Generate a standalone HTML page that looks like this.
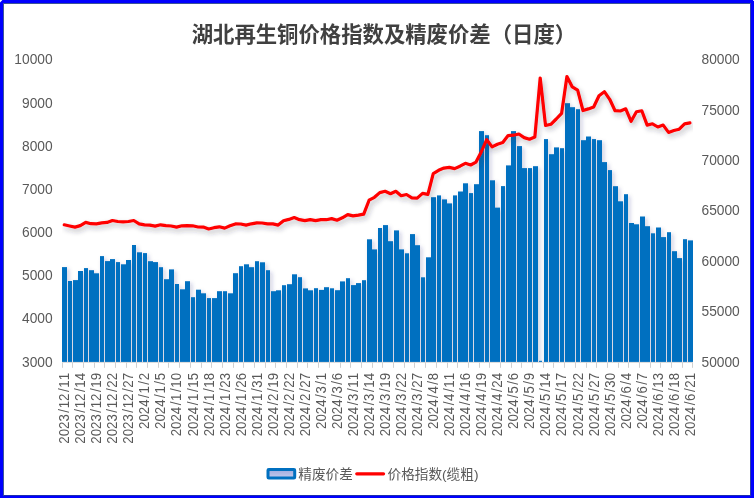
<!DOCTYPE html>
<html lang="zh-CN"><head><meta charset="utf-8"><title>湖北再生铜价格指数及精废价差（日度）</title>
<style>
html,body{margin:0;padding:0;background:#fff;}
body{width:754px;height:498px;overflow:hidden;position:relative;font-family:"Liberation Sans","Noto Sans CJK SC",sans-serif;}
#frame{position:absolute;left:0;top:0;width:754px;height:498px;box-sizing:border-box;border-style:solid;border-color:#0000fe;border-width:3px 3px 2px 3px;background:#fff;}
#inner{position:absolute;left:3px;top:3px;width:748px;height:493px;box-sizing:border-box;border-style:solid;border-width:1px;border-color:#3c5496 #2c40a4 #1c2cb0 #405896;}
svg{position:absolute;left:0;top:0;}
.ax{font-family:"Liberation Sans","Noto Sans CJK SC",sans-serif;font-size:14.6px;fill:#595959;font-kerning:none;}
.ttl{font-family:"Liberation Sans","Noto Sans CJK SC",sans-serif;font-size:21.37px;font-weight:bold;fill:#404040;}
.lg{font-family:"Liberation Sans","Noto Sans CJK SC",sans-serif;font-size:13.65px;fill:#595959;}
</style></head><body>
<div id="frame"></div><div id="inner"></div>
<svg width="754" height="498" viewBox="0 0 754 498">
<defs>
<filter id="sh" x="-5%" y="-5%" width="110%" height="115%"><feDropShadow dx="2" dy="2" stdDeviation="2.2" flood-color="#1c2c70" flood-opacity="0.22"/></filter>
<filter id="shl" x="-5%" y="-10%" width="110%" height="125%"><feDropShadow dx="2" dy="3" stdDeviation="2.6" flood-color="#2c2c3c" flood-opacity="0.32"/></filter>
<linearGradient id="lgf" x1="0" y1="0" x2="0" y2="1"><stop offset="0" stop-color="#9eaade"/><stop offset="1" stop-color="#c4caec"/></linearGradient>
<clipPath id="plot"><rect x="62" y="50" width="631" height="312"/></clipPath>
</defs>
<text class="ttl" x="383.9" y="41.7" text-anchor="middle">湖北再生铜价格指数及精废价差（日度）</text>
<text class="ax" transform="translate(52.6,64.3) scale(0.943,1)" text-anchor="end">10000</text>
<text class="ax" transform="translate(52.6,107.5) scale(0.943,1)" text-anchor="end">9000</text>
<text class="ax" transform="translate(52.6,150.6) scale(0.943,1)" text-anchor="end">8000</text>
<text class="ax" transform="translate(52.6,193.8) scale(0.943,1)" text-anchor="end">7000</text>
<text class="ax" transform="translate(52.6,236.9) scale(0.943,1)" text-anchor="end">6000</text>
<text class="ax" transform="translate(52.6,280.1) scale(0.943,1)" text-anchor="end">5000</text>
<text class="ax" transform="translate(52.6,323.2) scale(0.943,1)" text-anchor="end">4000</text>
<text class="ax" transform="translate(52.6,367.1) scale(0.943,1)" text-anchor="end">3000</text>
<text class="ax" transform="translate(701.5,64.3) scale(0.943,1)">80000</text>
<text class="ax" transform="translate(701.5,114.6) scale(0.943,1)">75000</text>
<text class="ax" transform="translate(701.5,165.0) scale(0.943,1)">70000</text>
<text class="ax" transform="translate(701.5,215.3) scale(0.943,1)">65000</text>
<text class="ax" transform="translate(701.5,265.7) scale(0.943,1)">60000</text>
<text class="ax" transform="translate(701.5,316.0) scale(0.943,1)">55000</text>
<text class="ax" transform="translate(701.5,367.0) scale(0.943,1)">50000</text>
<path d="M62.3 362.4H692.8" stroke="#d9d9d9" stroke-width="1" fill="none"/>
<path d="M62.5 362.4V367.8M72.5 362.4V367.8M83.5 362.4V367.8M94.5 362.4V367.8M104.5 362.4V367.8M115.5 362.4V367.8M126.5 362.4V367.8M136.5 362.4V367.8M147.5 362.4V367.8M158.5 362.4V367.8M168.5 362.4V367.8M179.5 362.4V367.8M190.5 362.4V367.8M201.5 362.4V367.8M211.5 362.4V367.8M222.5 362.4V367.8M233.5 362.4V367.8M243.5 362.4V367.8M254.5 362.4V367.8M265.5 362.4V367.8M275.5 362.4V367.8M286.5 362.4V367.8M297.5 362.4V367.8M307.5 362.4V367.8M318.5 362.4V367.8M329.5 362.4V367.8M340.5 362.4V367.8M350.5 362.4V367.8M361.5 362.4V367.8M372.5 362.4V367.8M382.5 362.4V367.8M393.5 362.4V367.8M404.5 362.4V367.8M414.5 362.4V367.8M425.5 362.4V367.8M436.5 362.4V367.8M447.5 362.4V367.8M457.5 362.4V367.8M468.5 362.4V367.8M479.5 362.4V367.8M489.5 362.4V367.8M500.5 362.4V367.8M511.5 362.4V367.8M521.5 362.4V367.8M532.5 362.4V367.8M543.5 362.4V367.8M553.5 362.4V367.8M564.5 362.4V367.8M575.5 362.4V367.8M586.5 362.4V367.8M596.5 362.4V367.8M607.5 362.4V367.8M618.5 362.4V367.8M628.5 362.4V367.8M639.5 362.4V367.8M650.5 362.4V367.8M660.5 362.4V367.8M671.5 362.4V367.8M682.5 362.4V367.8M692.5 362.4V367.8" stroke="#d0d0d0" stroke-width="1" fill="none"/>
<g clip-path="url(#plot)">
<g filter="url(#sh)" fill="#0070c0">
<rect x="62" y="267.1" width="5" height="94.8"/><rect x="68" y="281.0" width="4" height="80.9"/><rect x="73" y="280.1" width="5" height="81.8"/><rect x="78" y="271.0" width="5" height="90.9"/><rect x="84" y="268.1" width="4" height="93.8"/><rect x="89" y="270.2" width="5" height="91.7"/><rect x="94" y="273.3" width="5" height="88.6"/><rect x="100" y="256.1" width="4" height="105.8"/><rect x="105" y="261.1" width="5" height="100.8"/><rect x="110" y="259.1" width="5" height="102.8"/><rect x="116" y="262.1" width="4" height="99.8"/><rect x="121" y="264.3" width="5" height="97.6"/><rect x="126" y="260.0" width="5" height="101.9"/><rect x="132" y="245.0" width="4" height="116.9"/><rect x="137" y="252.3" width="5" height="109.6"/><rect x="143" y="253.1" width="4" height="108.8"/><rect x="148" y="261.2" width="5" height="100.7"/><rect x="153" y="262.1" width="5" height="99.8"/><rect x="159" y="267.2" width="4" height="94.7"/><rect x="164" y="279.2" width="5" height="82.7"/><rect x="169" y="269.4" width="5" height="92.5"/><rect x="175" y="284.0" width="4" height="77.9"/><rect x="180" y="289.3" width="5" height="72.6"/><rect x="185" y="281.2" width="5" height="80.7"/><rect x="191" y="297.2" width="4" height="64.7"/><rect x="196" y="289.7" width="5" height="72.2"/><rect x="201" y="293.3" width="5" height="68.6"/><rect x="207" y="298.1" width="4" height="63.8"/><rect x="212" y="298.1" width="5" height="63.8"/><rect x="217" y="291.2" width="5" height="70.7"/><rect x="223" y="291.2" width="4" height="70.7"/><rect x="228" y="293.3" width="5" height="68.6"/><rect x="233" y="273.2" width="5" height="88.7"/><rect x="239" y="266.2" width="4" height="95.7"/><rect x="244" y="264.3" width="5" height="97.6"/><rect x="249" y="267.2" width="5" height="94.7"/><rect x="255" y="261.2" width="4" height="100.7"/><rect x="260" y="262.3" width="5" height="99.6"/><rect x="266" y="270.2" width="4" height="91.7"/><rect x="271" y="291.2" width="5" height="70.7"/><rect x="276" y="290.3" width="5" height="71.6"/><rect x="282" y="285.2" width="4" height="76.7"/><rect x="287" y="284.2" width="5" height="77.7"/><rect x="292" y="274.3" width="5" height="87.6"/><rect x="298" y="277.2" width="4" height="84.7"/><rect x="303" y="288.4" width="5" height="73.5"/><rect x="308" y="290.3" width="5" height="71.6"/><rect x="314" y="288.2" width="4" height="73.7"/><rect x="319" y="289.9" width="5" height="72.0"/><rect x="324" y="287.2" width="5" height="74.7"/><rect x="330" y="288.3" width="4" height="73.6"/><rect x="335" y="290.2" width="5" height="71.7"/><rect x="340" y="281.4" width="5" height="80.5"/><rect x="346" y="278.2" width="4" height="83.7"/><rect x="351" y="285.1" width="5" height="76.8"/><rect x="356" y="283.1" width="5" height="78.8"/><rect x="362" y="280.2" width="4" height="81.7"/><rect x="367" y="239.3" width="5" height="122.6"/><rect x="372" y="249.4" width="5" height="112.5"/><rect x="378" y="228.0" width="4" height="133.9"/><rect x="383" y="225.1" width="5" height="136.8"/><rect x="388" y="241.2" width="5" height="120.7"/><rect x="394" y="230.4" width="5" height="131.5"/><rect x="399" y="249.4" width="5" height="112.5"/><rect x="405" y="253.3" width="4" height="108.6"/><rect x="410" y="234.1" width="5" height="127.8"/><rect x="415" y="245.2" width="5" height="116.7"/><rect x="421" y="277.3" width="4" height="84.6"/><rect x="426" y="257.3" width="5" height="104.6"/><rect x="431" y="197.2" width="5" height="164.7"/><rect x="437" y="195.4" width="4" height="166.5"/><rect x="442" y="199.4" width="5" height="162.5"/><rect x="447" y="203.4" width="5" height="158.5"/><rect x="453" y="195.4" width="4" height="166.5"/><rect x="458" y="191.5" width="5" height="170.4"/><rect x="463" y="183.3" width="5" height="178.6"/><rect x="469" y="193.1" width="4" height="168.8"/><rect x="474" y="184.2" width="5" height="177.7"/><rect x="479" y="131.1" width="5" height="230.8"/><rect x="485" y="135.2" width="4" height="226.7"/><rect x="490" y="180.3" width="5" height="181.6"/><rect x="495" y="207.6" width="5" height="154.3"/><rect x="501" y="186.1" width="4" height="175.8"/><rect x="506" y="165.4" width="5" height="196.5"/><rect x="511" y="131.1" width="5" height="230.8"/><rect x="517" y="146.1" width="5" height="215.8"/><rect x="522" y="168.1" width="5" height="193.8"/><rect x="528" y="168.1" width="4" height="193.8"/><rect x="533" y="166.2" width="5" height="195.7"/><rect x="539" y="360.8" width="3" height="1.1"/><rect x="544" y="139.1" width="4" height="222.8"/><rect x="549" y="154.2" width="5" height="207.7"/><rect x="554" y="147.4" width="5" height="214.5"/><rect x="560" y="148.2" width="4" height="213.7"/><rect x="565" y="103.2" width="5" height="258.7"/><rect x="570" y="107.2" width="5" height="254.7"/><rect x="576" y="109.2" width="4" height="252.7"/><rect x="581" y="140.2" width="5" height="221.7"/><rect x="586" y="136.5" width="5" height="225.4"/><rect x="592" y="139.1" width="4" height="222.8"/><rect x="597" y="140.2" width="5" height="221.7"/><rect x="602" y="162.1" width="5" height="199.8"/><rect x="608" y="170.1" width="4" height="191.8"/><rect x="613" y="186.2" width="5" height="175.7"/><rect x="618" y="201.3" width="5" height="160.6"/><rect x="624" y="194.2" width="4" height="167.7"/><rect x="629" y="223.0" width="5" height="138.9"/><rect x="634" y="224.3" width="5" height="137.6"/><rect x="640" y="216.5" width="5" height="145.4"/><rect x="645" y="226.2" width="5" height="135.7"/><rect x="651" y="233.3" width="4" height="128.6"/><rect x="656" y="227.5" width="5" height="134.4"/><rect x="661" y="237.1" width="5" height="124.8"/><rect x="667" y="232.2" width="4" height="129.7"/><rect x="672" y="251.2" width="5" height="110.7"/><rect x="677" y="258.1" width="5" height="103.8"/><rect x="683" y="239.2" width="4" height="122.7"/><rect x="688" y="240.4" width="5" height="121.5"/>
</g>
<polyline filter="url(#shl)" points="64.27,224.8 69.62,226.0 74.97,227.1 80.32,225.6 85.66,222.4 91.01,223.7 96.36,223.8 101.71,222.9 107.05,222.4 112.40,220.5 117.75,221.5 123.10,221.8 128.44,221.5 133.79,220.5 139.14,223.9 144.49,224.9 149.83,225.1 155.18,226.1 160.53,224.8 165.88,225.6 171.22,226.0 176.57,227.1 181.92,225.8 187.27,225.7 192.61,225.8 197.96,227.0 203.31,227.1 208.66,229.0 214.00,227.7 219.35,226.8 224.70,228.1 230.04,225.8 235.39,223.9 240.74,224.0 246.09,225.1 251.43,223.8 256.78,222.9 262.13,223.0 267.48,223.9 272.82,223.9 278.17,225.1 283.52,220.8 288.87,219.4 294.21,217.6 299.56,219.7 304.91,220.6 310.26,219.7 315.60,220.6 320.95,219.7 326.30,219.7 331.65,218.6 336.99,220.2 342.34,217.8 347.69,214.6 353.04,215.9 358.38,215.1 363.73,214.1 369.08,200.2 374.43,197.3 379.77,192.6 385.12,191.3 390.47,193.7 395.82,191.3 401.16,195.7 406.51,194.5 411.86,197.8 417.21,198.1 422.55,193.4 427.90,194.4 433.25,173.6 438.60,170.3 443.94,168.1 449.29,167.4 454.64,168.6 459.99,166.2 465.33,163.3 470.68,165.0 476.03,162.1 481.38,151.7 486.72,139.7 492.07,146.9 497.42,144.2 502.77,142.5 508.11,135.6 513.46,135.2 518.81,134.0 524.16,137.6 529.50,139.2 534.85,137.0 540.20,78.0 545.54,125.5 550.89,124.3 556.24,119.0 561.59,113.4 566.93,76.5 572.28,86.9 577.63,90.1 582.98,110.5 588.32,108.9 593.67,107.0 599.02,95.7 604.37,91.7 609.71,99.3 615.06,110.7 620.41,111.0 625.76,108.8 631.10,121.3 636.45,111.8 641.80,110.8 647.15,125.1 652.49,123.8 657.84,127.0 663.19,125.1 668.54,132.4 673.88,130.5 679.23,129.2 684.58,123.8 689.93,122.9" fill="none" stroke="#ff0000" stroke-width="3.2" stroke-linejoin="round" stroke-linecap="round"/>
</g>
<text class="ax" transform="translate(69.17,372.9) rotate(-90) scale(0.91,1)" text-anchor="end">2023<tspan dx="1.6">/</tspan><tspan dx="0.8">12</tspan><tspan dx="1.6">/</tspan><tspan dx="0.8">11</tspan></text>
<text class="ax" transform="translate(85.22,372.9) rotate(-90) scale(0.91,1)" text-anchor="end">2023<tspan dx="1.6">/</tspan><tspan dx="0.8">12</tspan><tspan dx="1.6">/</tspan><tspan dx="0.8">14</tspan></text>
<text class="ax" transform="translate(101.26,372.9) rotate(-90) scale(0.91,1)" text-anchor="end">2023<tspan dx="1.6">/</tspan><tspan dx="0.8">12</tspan><tspan dx="1.6">/</tspan><tspan dx="0.8">19</tspan></text>
<text class="ax" transform="translate(117.30,372.9) rotate(-90) scale(0.91,1)" text-anchor="end">2023<tspan dx="1.6">/</tspan><tspan dx="0.8">12</tspan><tspan dx="1.6">/</tspan><tspan dx="0.8">22</tspan></text>
<text class="ax" transform="translate(133.34,372.9) rotate(-90) scale(0.91,1)" text-anchor="end">2023<tspan dx="1.6">/</tspan><tspan dx="0.8">12</tspan><tspan dx="1.6">/</tspan><tspan dx="0.8">27</tspan></text>
<text class="ax" transform="translate(149.39,372.9) rotate(-90) scale(0.91,1)" text-anchor="end">2024<tspan dx="1.6">/</tspan><tspan dx="0.8">1</tspan><tspan dx="1.6">/</tspan><tspan dx="0.8">2</tspan></text>
<text class="ax" transform="translate(165.43,372.9) rotate(-90) scale(0.91,1)" text-anchor="end">2024<tspan dx="1.6">/</tspan><tspan dx="0.8">1</tspan><tspan dx="1.6">/</tspan><tspan dx="0.8">5</tspan></text>
<text class="ax" transform="translate(181.47,372.9) rotate(-90) scale(0.91,1)" text-anchor="end">2024<tspan dx="1.6">/</tspan><tspan dx="0.8">1</tspan><tspan dx="1.6">/</tspan><tspan dx="0.8">10</tspan></text>
<text class="ax" transform="translate(197.51,372.9) rotate(-90) scale(0.91,1)" text-anchor="end">2024<tspan dx="1.6">/</tspan><tspan dx="0.8">1</tspan><tspan dx="1.6">/</tspan><tspan dx="0.8">15</tspan></text>
<text class="ax" transform="translate(213.56,372.9) rotate(-90) scale(0.91,1)" text-anchor="end">2024<tspan dx="1.6">/</tspan><tspan dx="0.8">1</tspan><tspan dx="1.6">/</tspan><tspan dx="0.8">18</tspan></text>
<text class="ax" transform="translate(229.60,372.9) rotate(-90) scale(0.91,1)" text-anchor="end">2024<tspan dx="1.6">/</tspan><tspan dx="0.8">1</tspan><tspan dx="1.6">/</tspan><tspan dx="0.8">23</tspan></text>
<text class="ax" transform="translate(245.64,372.9) rotate(-90) scale(0.91,1)" text-anchor="end">2024<tspan dx="1.6">/</tspan><tspan dx="0.8">1</tspan><tspan dx="1.6">/</tspan><tspan dx="0.8">26</tspan></text>
<text class="ax" transform="translate(261.68,372.9) rotate(-90) scale(0.91,1)" text-anchor="end">2024<tspan dx="1.6">/</tspan><tspan dx="0.8">1</tspan><tspan dx="1.6">/</tspan><tspan dx="0.8">31</tspan></text>
<text class="ax" transform="translate(277.72,372.9) rotate(-90) scale(0.91,1)" text-anchor="end">2024<tspan dx="1.6">/</tspan><tspan dx="0.8">2</tspan><tspan dx="1.6">/</tspan><tspan dx="0.8">19</tspan></text>
<text class="ax" transform="translate(293.77,372.9) rotate(-90) scale(0.91,1)" text-anchor="end">2024<tspan dx="1.6">/</tspan><tspan dx="0.8">2</tspan><tspan dx="1.6">/</tspan><tspan dx="0.8">22</tspan></text>
<text class="ax" transform="translate(309.81,372.9) rotate(-90) scale(0.91,1)" text-anchor="end">2024<tspan dx="1.6">/</tspan><tspan dx="0.8">2</tspan><tspan dx="1.6">/</tspan><tspan dx="0.8">27</tspan></text>
<text class="ax" transform="translate(325.85,372.9) rotate(-90) scale(0.91,1)" text-anchor="end">2024<tspan dx="1.6">/</tspan><tspan dx="0.8">3</tspan><tspan dx="1.6">/</tspan><tspan dx="0.8">1</tspan></text>
<text class="ax" transform="translate(341.89,372.9) rotate(-90) scale(0.91,1)" text-anchor="end">2024<tspan dx="1.6">/</tspan><tspan dx="0.8">3</tspan><tspan dx="1.6">/</tspan><tspan dx="0.8">6</tspan></text>
<text class="ax" transform="translate(357.94,372.9) rotate(-90) scale(0.91,1)" text-anchor="end">2024<tspan dx="1.6">/</tspan><tspan dx="0.8">3</tspan><tspan dx="1.6">/</tspan><tspan dx="0.8">11</tspan></text>
<text class="ax" transform="translate(373.98,372.9) rotate(-90) scale(0.91,1)" text-anchor="end">2024<tspan dx="1.6">/</tspan><tspan dx="0.8">3</tspan><tspan dx="1.6">/</tspan><tspan dx="0.8">14</tspan></text>
<text class="ax" transform="translate(390.02,372.9) rotate(-90) scale(0.91,1)" text-anchor="end">2024<tspan dx="1.6">/</tspan><tspan dx="0.8">3</tspan><tspan dx="1.6">/</tspan><tspan dx="0.8">19</tspan></text>
<text class="ax" transform="translate(406.06,372.9) rotate(-90) scale(0.91,1)" text-anchor="end">2024<tspan dx="1.6">/</tspan><tspan dx="0.8">3</tspan><tspan dx="1.6">/</tspan><tspan dx="0.8">22</tspan></text>
<text class="ax" transform="translate(422.11,372.9) rotate(-90) scale(0.91,1)" text-anchor="end">2024<tspan dx="1.6">/</tspan><tspan dx="0.8">3</tspan><tspan dx="1.6">/</tspan><tspan dx="0.8">27</tspan></text>
<text class="ax" transform="translate(438.15,372.9) rotate(-90) scale(0.91,1)" text-anchor="end">2024<tspan dx="1.6">/</tspan><tspan dx="0.8">4</tspan><tspan dx="1.6">/</tspan><tspan dx="0.8">8</tspan></text>
<text class="ax" transform="translate(454.19,372.9) rotate(-90) scale(0.91,1)" text-anchor="end">2024<tspan dx="1.6">/</tspan><tspan dx="0.8">4</tspan><tspan dx="1.6">/</tspan><tspan dx="0.8">11</tspan></text>
<text class="ax" transform="translate(470.23,372.9) rotate(-90) scale(0.91,1)" text-anchor="end">2024<tspan dx="1.6">/</tspan><tspan dx="0.8">4</tspan><tspan dx="1.6">/</tspan><tspan dx="0.8">16</tspan></text>
<text class="ax" transform="translate(486.28,372.9) rotate(-90) scale(0.91,1)" text-anchor="end">2024<tspan dx="1.6">/</tspan><tspan dx="0.8">4</tspan><tspan dx="1.6">/</tspan><tspan dx="0.8">19</tspan></text>
<text class="ax" transform="translate(502.32,372.9) rotate(-90) scale(0.91,1)" text-anchor="end">2024<tspan dx="1.6">/</tspan><tspan dx="0.8">4</tspan><tspan dx="1.6">/</tspan><tspan dx="0.8">24</tspan></text>
<text class="ax" transform="translate(518.36,372.9) rotate(-90) scale(0.91,1)" text-anchor="end">2024<tspan dx="1.6">/</tspan><tspan dx="0.8">5</tspan><tspan dx="1.6">/</tspan><tspan dx="0.8">6</tspan></text>
<text class="ax" transform="translate(534.40,372.9) rotate(-90) scale(0.91,1)" text-anchor="end">2024<tspan dx="1.6">/</tspan><tspan dx="0.8">5</tspan><tspan dx="1.6">/</tspan><tspan dx="0.8">9</tspan></text>
<text class="ax" transform="translate(550.44,372.9) rotate(-90) scale(0.91,1)" text-anchor="end">2024<tspan dx="1.6">/</tspan><tspan dx="0.8">5</tspan><tspan dx="1.6">/</tspan><tspan dx="0.8">14</tspan></text>
<text class="ax" transform="translate(566.49,372.9) rotate(-90) scale(0.91,1)" text-anchor="end">2024<tspan dx="1.6">/</tspan><tspan dx="0.8">5</tspan><tspan dx="1.6">/</tspan><tspan dx="0.8">17</tspan></text>
<text class="ax" transform="translate(582.53,372.9) rotate(-90) scale(0.91,1)" text-anchor="end">2024<tspan dx="1.6">/</tspan><tspan dx="0.8">5</tspan><tspan dx="1.6">/</tspan><tspan dx="0.8">22</tspan></text>
<text class="ax" transform="translate(598.57,372.9) rotate(-90) scale(0.91,1)" text-anchor="end">2024<tspan dx="1.6">/</tspan><tspan dx="0.8">5</tspan><tspan dx="1.6">/</tspan><tspan dx="0.8">27</tspan></text>
<text class="ax" transform="translate(614.61,372.9) rotate(-90) scale(0.91,1)" text-anchor="end">2024<tspan dx="1.6">/</tspan><tspan dx="0.8">5</tspan><tspan dx="1.6">/</tspan><tspan dx="0.8">30</tspan></text>
<text class="ax" transform="translate(630.66,372.9) rotate(-90) scale(0.91,1)" text-anchor="end">2024<tspan dx="1.6">/</tspan><tspan dx="0.8">6</tspan><tspan dx="1.6">/</tspan><tspan dx="0.8">4</tspan></text>
<text class="ax" transform="translate(646.70,372.9) rotate(-90) scale(0.91,1)" text-anchor="end">2024<tspan dx="1.6">/</tspan><tspan dx="0.8">6</tspan><tspan dx="1.6">/</tspan><tspan dx="0.8">7</tspan></text>
<text class="ax" transform="translate(662.74,372.9) rotate(-90) scale(0.91,1)" text-anchor="end">2024<tspan dx="1.6">/</tspan><tspan dx="0.8">6</tspan><tspan dx="1.6">/</tspan><tspan dx="0.8">13</tspan></text>
<text class="ax" transform="translate(678.78,372.9) rotate(-90) scale(0.91,1)" text-anchor="end">2024<tspan dx="1.6">/</tspan><tspan dx="0.8">6</tspan><tspan dx="1.6">/</tspan><tspan dx="0.8">18</tspan></text>
<text class="ax" transform="translate(694.83,372.9) rotate(-90) scale(0.91,1)" text-anchor="end">2024<tspan dx="1.6">/</tspan><tspan dx="0.8">6</tspan><tspan dx="1.6">/</tspan><tspan dx="0.8">21</tspan></text>
<rect x="268" y="469.5" width="26.7" height="8.6" rx="0.8" fill="url(#lgf)" stroke="#0070c0" stroke-width="3" stroke-linejoin="round"/>
<text class="lg" x="298.3" y="478.7">精废价差</text>
<path d="M356.75 473.8H383.55" stroke="#ff0000" stroke-width="3.2" stroke-linecap="round" fill="none"/>
<text class="lg" x="387.5" y="478.7">价格指数(缆粗)</text>
<path d="M0 0H2.4L0 2.4Z" fill="#fff"/><rect x="753.05" y="0" width="0.95" height="0.85" fill="#fff"/>
</svg>
</body></html>
